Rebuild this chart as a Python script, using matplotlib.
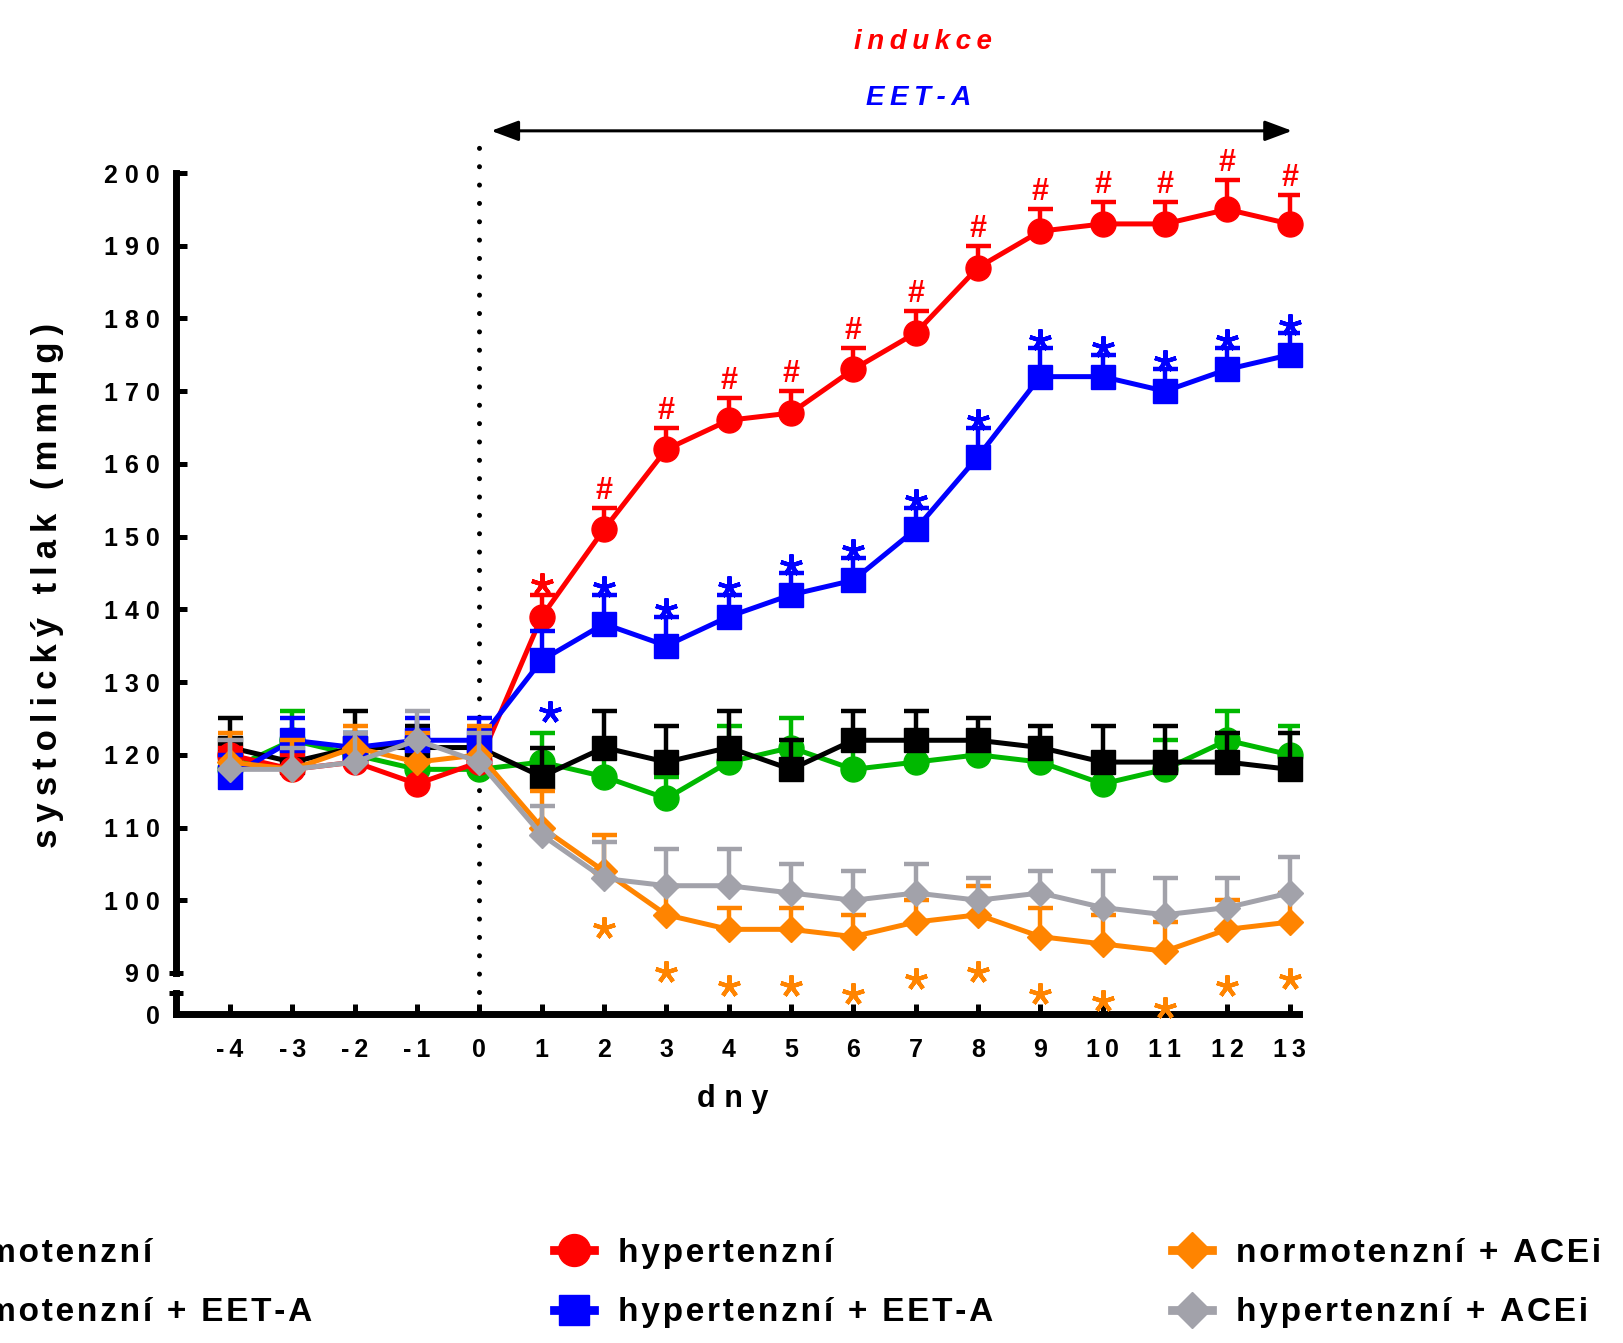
import numpy as np
import matplotlib
matplotlib.use('Agg')
import matplotlib.pyplot as plt
from matplotlib.lines import Line2D
from matplotlib.transforms import offset_copy, blended_transform_factory

plt.rcParams['font.family'] = ['Liberation Sans', 'DejaVu Sans']
plt.rcParams['font.weight'] = 'bold'

HAIR = '\u200a'
THIN = '\u2009'

# --- data (mean, upper SEM) ---
days = np.arange(-4, 14)

normo = np.array([118, 122, 120, 118, 118, 119, 117, 114, 119, 121, 118, 119, 120, 119, 116, 118, 122, 120])
normo_err = np.array([3, 4, 3, 3, 3, 4, 3, 3, 5, 4, 3, 3, 3, 3, 3, 4, 4, 4])

normo_eet = np.array([121, 119, 121, 121, 121, 117, 121, 119, 121, 118, 122, 122, 122, 121, 119, 119, 119, 118])
normo_eet_err = np.array([4, 2, 5, 3, 2, 4, 5, 5, 5, 4, 4, 4, 3, 3, 5, 5, 4, 5])

hyper = np.array([120, 118, 119, 116, 119, 139, 151, 162, 166, 167, 173, 178, 187, 192, 193, 193, 195, 193])
hyper_err = np.array([1, 2, 2, 3, 2, 3, 3, 3, 3, 3, 3, 3, 3, 3, 3, 3, 4, 4])

hyper_eet = np.array([117, 122, 121, 122, 122, 133, 138, 135, 139, 142, 144, 151, 161, 172, 172, 170, 173, 175])
hyper_eet_err = np.array([3, 3, 2, 3, 3, 4, 4, 4, 3, 3, 3, 3, 4, 4, 3, 3, 3, 3])

normo_acei = np.array([119, 118, 121, 119, 120, 110, 104, 98, 96, 96, 95, 97, 98, 95, 94, 93, 96, 97])
normo_acei_err = np.array([4, 4, 3, 4, 4, 5, 5, 4, 3, 3, 3, 3, 4, 4, 4, 4, 4, 4])

hyper_acei = np.array([118, 118, 119, 122, 119, 109, 103, 102, 102, 101, 100, 101, 100, 101, 99, 98, 99, 101])
hyper_acei_err = np.array([4, 3, 4, 4, 4, 4, 5, 5, 5, 4, 4, 4, 3, 3, 5, 5, 4, 5])

labels = ['normotenzní', 'normotenzní + EET-A', 'hypertenzní',
          'hypertenzní + EET-A', 'normotenzní + ACEi', 'hypertenzní + ACEi']

# significance marks (days)
hash_days = np.arange(2, 14)       # red #
red_star_days = np.array([1])      # red *
blue_star_days = np.arange(2, 14)  # blue *
orange_star_days = np.arange(2, 14)

GREEN = '#00B800'
RED = '#FF0000'
BLUE = '#0000FF'
ORANGE = '#FF8400'
GRAY = '#A2A2AA'

W, H = 1623, 1343


def fx(px):
    return px / W


def fy(py):
    return 1 - py / H


def spaced(s, gap):
    return gap.join(s)


fig = plt.figure(figsize=(W / 100, H / 100), dpi=100)

ax = fig.add_axes([fx(176), fy(1014), fx(1299) - fx(176), fy(0) - fy(1014)])
ax.set_xlim(-4.866, 13.15)
ax.set_ylim(84.36, 223.79)
ax.patch.set_visible(False)

series = [
    (normo, normo_err, GREEN, 'o', 18),
    (normo_eet, normo_eet_err, 'black', 's', 17),
    (hyper, hyper_err, RED, 'o', 18),
    (hyper_eet, hyper_eet_err, BLUE, 's', 17),
    (normo_acei, normo_acei_err, ORANGE, 'D', 13),
    (hyper_acei, hyper_acei_err, GRAY, 'D', 13),
]

# dotted line at induction start
ax.plot([0, 0], [87.4, 204.5], color='black', lw=3.6, ls=(0, (0.01, 3.66)),
        dash_capstyle='round', zorder=2, clip_on=False)

for i, (vals, err, c, m, ms) in enumerate(series):
    z = 3 + i
    top = vals + err
    ax.vlines(days, vals, top, colors=c, lw=3.2, zorder=z)
    ax.plot(days, top, ls='none', marker='_', ms=18, mew=3.2, color=c, zorder=z)
    ax.plot(days, vals, color=c, lw=3.6, marker=m, ms=ms, zorder=z, clip_on=False)

# significance annotations
idx = days - days[0]
for d in hash_days:
    k = idx[days == d][0]
    ax.text(d, hyper[k] + hyper_err[k], '#', color=RED, fontsize=22, ha='center', va='baseline',
            transform=offset_copy(ax.transData, fig, x=0, y=9, units='dots'), zorder=20)

star = dict(ls='none', marker=(5, 2, 0), ms=16, mew=3, zorder=20, clip_on=False)
sel = np.isin(days, red_star_days)
ax.plot(days[sel], (hyper + hyper_err)[sel], color=RED,
        transform=offset_copy(ax.transData, fig, x=0, y=11, units='dots'), **star)
sel = np.isin(days, blue_star_days)
ax.plot(days[sel], (hyper_eet + hyper_eet_err)[sel], color=BLUE,
        transform=offset_copy(ax.transData, fig, x=0, y=8, units='dots'), **star)
# blue * over the normotensive groups at day 1
sel = days == 1
ax.plot(days[sel], (normo + normo_err)[sel], color=BLUE,
        transform=offset_copy(ax.transData, fig, x=8, y=21, units='dots'), **star)
sel = np.isin(days, orange_star_days)
ax.plot(days[sel], normo_acei[sel], color=ORANGE,
        transform=offset_copy(ax.transData, fig, x=0, y=-57, units='dots'), **star)

# treatment arrow
ax.annotate('', xy=(0.19, 205.8), xytext=(13.04, 205.8),
            arrowprops=dict(arrowstyle='<|-|>,head_length=0.83,head_width=0.31',
                            mutation_scale=20, lw=2.2, color='black', shrinkA=0, shrinkB=0),
            annotation_clip=False)
fig.text(fx(923), fy(49.3), spaced('indukce', THIN), color=RED, style='italic',
         fontsize=20, ha='center', va='baseline')
fig.text(fx(919), fy(105), spaced('EET-A', THIN), color=BLUE, style='italic',
         fontsize=20, ha='center', va='baseline')

# upper (main) y axis 90-200
for s in ['top', 'right', 'bottom']:
    ax.spines[s].set_visible(False)
ax.spines['left'].set_linewidth(5)
ax.spines['left'].set_bounds(90, 200)
yt = np.arange(90, 201, 10)
ax.set_yticks(yt)
ax.set_yticklabels([' '.join(str(v)) for v in yt])
ax.tick_params(axis='y', direction='in', length=8.1, width=3.6, labelsize=18, pad=11.5)
ax.yaxis.get_major_ticks()[0].tick1line.set_visible(False)
ax.set_xticks([])
bt = blended_transform_factory(ax.transAxes, ax.transData)
ax.plot([-7 / 1123, 7 / 1123], [90, 90], transform=bt, color='black', lw=3.6,
        solid_capstyle='butt', clip_on=False)

# lower segment with 0 and the day axis
ax0 = fig.add_axes([fx(176), fy(1014), fx(1299) - fx(176), 21 / H], zorder=-1)
ax0.set_xlim(ax.get_xlim())
ax0.set_ylim(0, 1)
ax0.patch.set_visible(False)
for s in ['top', 'right']:
    ax0.spines[s].set_visible(False)
ax0.spines['left'].set_linewidth(5)
ax0.spines['bottom'].set_linewidth(5)
ax0.spines['left'].set_bounds(0, 1)
ax0.set_xticks(days)
ax0.set_xticklabels([THIN.join(str(d)) for d in days])
ax0.tick_params(axis='x', direction='in', length=7.2, width=3.6, labelsize=18, pad=17)
ax0.set_yticks([0])
ax0.set_yticklabels(['0'])
ax0.tick_params(axis='y', length=0, labelsize=18, pad=11.5)
bt0 = blended_transform_factory(ax0.transAxes, ax0.transData)
ax0.plot([-7 / 1123, 7 / 1123], [1, 1], transform=bt0, color='black', lw=3.6,
         solid_capstyle='butt', clip_on=False)

fig.text(fx(47.5), fy(585), spaced('systolický tlak (mmHg)', THIN), rotation=90,
         ha='center', va='center', fontsize=25)
fig.text(fx(733), fy(1107), 'd n y', ha='center', va='baseline', fontsize=22)

# legend: three columns, first one runs off the left edge
leg_ms = {'o': 23, 's': 22, 'D': 18}
handles = [Line2D([], [], color=c, marker=m, ms=leg_ms[m], lw=6.3) for (_, _, c, m, _) in series]
texts = [spaced(t, HAIR) for t in labels]
for col, x0 in enumerate([-140, 554, 1172]):
    leg = fig.legend(handles[2 * col:2 * col + 2], texts[2 * col:2 * col + 2],
                     loc='center left', bbox_to_anchor=(fx(x0), fy(1283)),
                     frameon=False, fontsize=24, handlelength=1.2, handletextpad=0.72,
                     borderpad=0, borderaxespad=0, labelspacing=0.85)

fig.savefig('out.png', dpi=100)
